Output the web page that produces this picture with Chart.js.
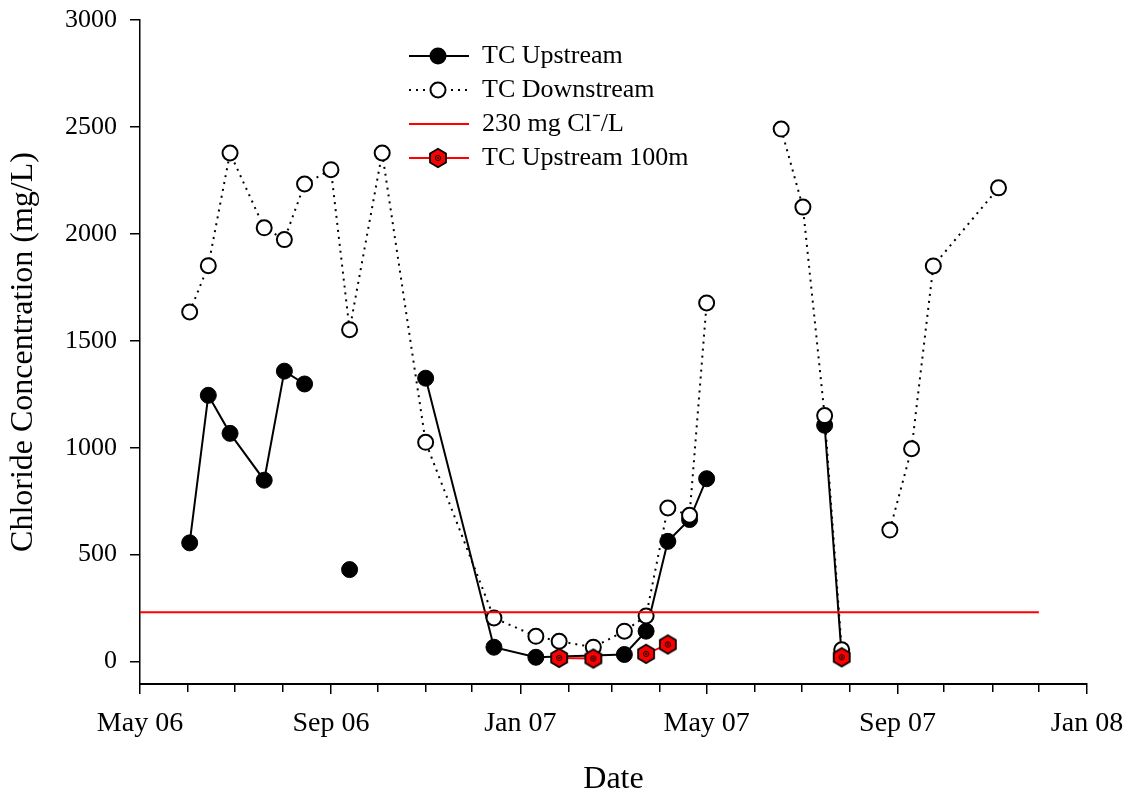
<!DOCTYPE html>
<html><head><meta charset="utf-8">
<script src="https://cdn.jsdelivr.net/npm/chart.js@4/dist/chart.umd.min.js"></script>
<style>html,body{margin:0;padding:0;background:#fff;}canvas{display:block;}</style>
</head><body>
<canvas id="c" width="1123" height="796"></canvas>
<script>
// ---- data (null = break in the line) ----
const upDates   = ['2006-06-02','2006-06-14','2006-06-28','2006-07-20','2006-08-02','2006-08-15','2006-08-25','2006-09-13','2006-09-25','2006-11-01','2006-12-15','2007-01-11','2007-03-09','2007-03-23','2007-04-06','2007-04-20','2007-05-01','2007-06-01','2007-07-16','2007-07-27'];
const upValues  = [555, 1245, 1067, 848, 1358, 1298, null, 430, null, 1325, 67, 20, 33, 142, 562, 664, 855, null, 1105, 25];

const downDates  = ['2006-06-02','2006-06-14','2006-06-28','2006-07-20','2006-08-02','2006-08-15','2006-09-01','2006-09-13','2006-10-04','2006-11-01','2006-12-15','2007-01-11','2007-01-26','2007-02-17','2007-03-09','2007-03-23','2007-04-06','2007-04-20','2007-05-01','2007-06-01','2007-06-18','2007-07-02','2007-07-16','2007-07-27','2007-08-10','2007-08-27','2007-09-10','2007-09-24','2007-11-05'];
const downValues = [1635, 1851, 2378, 2028, 1973, 2233, 2300, 1552, 2378, 1025, 204, 118, 95, 67, 142, 213, 718, 684, 1677, null, 2490, 2125, 1150, 55, null, 615, 995, 1850, 2215];

const limitDates  = ['2006-05-01','2007-12-01'];
const limitValues = [230, 230];

const hexDates  = ['2007-01-26','2007-02-17','2007-03-05','2007-03-23','2007-04-06','2007-06-01','2007-07-27'];
const hexValues = [17, 14, null, 36, 80, null, 20];

const seriesLabels = ['TC Upstream', 'TC Downstream', '230 mg Cl\u207B/L', 'TC Upstream 100m'];

const xTickDates  = ['2006-05-01','2006-06-01','2006-07-01','2006-08-01','2006-09-01','2006-10-01','2006-11-01','2006-12-01','2007-01-01','2007-02-01','2007-03-01','2007-04-01','2007-05-01','2007-06-01','2007-07-01','2007-08-01','2007-09-01','2007-10-01','2007-11-01','2007-12-01','2008-01-01'];
const xTickLabels = ['May 06','','','','Sep 06','','','','Jan 07','','','','May 07','','','','Sep 07','','','','Jan 08'];
const yTicks = [0, 500, 1000, 1500, 2000, 2500, 3000];

// ---- helpers ----
const ORIGIN = Date.UTC(2006, 4, 1);
function dayOf(s) { const [y, m, d] = s.split('-').map(Number); return (Date.UTC(y, m - 1, d) - ORIGIN) / 86400000; }
function pts(dates, vals) { return dates.map((d, i) => ({x: dayOf(d), y: vals[i]})); }
const xTickDays = xTickDates.map(dayOf);

function drawHex(g, cx, cy) {
  g.beginPath();
  for (let k = 0; k < 6; k++) {
    const a = Math.PI / 2 + k * Math.PI / 3;
    const px = cx + 9.2 * Math.cos(a), py = cy + 9.2 * Math.sin(a);
    if (k) g.lineTo(px, py); else g.moveTo(px, py);
  }
  g.closePath();
  g.fillStyle = '#ff0000'; g.fill();
  g.lineWidth = 1.8; g.strokeStyle = '#000'; g.stroke();
  g.beginPath(); g.arc(cx, cy, 2.6, 0, 2 * Math.PI); g.lineWidth = 1; g.stroke();
  g.beginPath(); g.arc(cx, cy, 1, 0, 2 * Math.PI); g.fillStyle = '#000'; g.fill();
}
function mk(w, h, fn) { const c = document.createElement('canvas'); c.width = w; c.height = h; fn(c.getContext('2d')); return c; }
const hexImg = mk(22, 22, g => drawHex(g, 11, 11));

const LW = 62, LH = 22, LC = 11;
const legendImgs = [
  mk(LW, LH, g => { g.strokeStyle = '#000'; g.lineWidth = 2; g.beginPath(); g.moveTo(1, LC); g.lineTo(61, LC); g.stroke();
                    g.beginPath(); g.arc(30, LC, 8.5, 0, 2 * Math.PI); g.fillStyle = '#000'; g.fill(); }),
  mk(LW, LH, g => { g.fillStyle = '#000'; for (let x = 1; x < 62; x += 7) { if (Math.abs(x - 30) > 8) g.fillRect(x, LC - 1, 2, 2); }
                    g.beginPath(); g.arc(30, LC, 7.5, 0, 2 * Math.PI); g.fillStyle = '#fff'; g.fill(); g.lineWidth = 2; g.strokeStyle = '#000'; g.stroke(); }),
  mk(LW, LH, g => { g.strokeStyle = '#ff0000'; g.lineWidth = 2; g.beginPath(); g.moveTo(1, LC); g.lineTo(61, LC); g.stroke(); }),
  mk(LW, LH, g => { g.strokeStyle = '#ff0000'; g.lineWidth = 2; g.beginPath(); g.moveTo(1, LC); g.lineTo(61, LC); g.stroke(); drawHex(g, 30, LC); })
];

Chart.defaults.font.family = "'Liberation Serif', 'Times New Roman', serif";
Chart.defaults.color = '#000';

const legendPos = {
  id: 'legendPos',
  afterLayout(chart) {
    const l = chart.legend; if (!l) return;
    const w = l.width, h = l.height;
    l.left = 401; l.top = 35; l.right = l.left + w; l.bottom = l.top + h;
  }
};

new Chart(document.getElementById('c'), {
  type: 'line',
  data: {
    datasets: [
      { label: seriesLabels[0], data: pts(upDates, upValues), order: 4,
        borderColor: '#000', borderWidth: 2, pointStyle: 'circle', pointRadius: 8,
        pointBackgroundColor: '#000', pointBorderColor: '#000', pointBorderWidth: 1, tension: 0 },
      { label: seriesLabels[1], data: pts(downDates, downValues), order: 3,
        borderColor: '#000', borderWidth: 2, borderDash: [2, 5], pointStyle: 'circle', pointRadius: 7.5,
        pointBackgroundColor: '#fff', pointBorderColor: '#000', pointBorderWidth: 2, tension: 0 },
      { label: seriesLabels[2], data: pts(limitDates, limitValues), order: 2,
        borderColor: '#ff0000', borderWidth: 2, pointRadius: 0, tension: 0 },
      { label: seriesLabels[3], data: pts(hexDates, hexValues), order: 1,
        borderColor: '#ff0000', borderWidth: 2, pointStyle: hexImg, pointRadius: 9, tension: 0 }
    ]
  },
  options: {
    responsive: false, animation: false, devicePixelRatio: 1,
    layout: { padding: { top: 20, right: 36, left: 0, bottom: 0 } },
    plugins: {
      tooltip: { enabled: false },
      legend: {
        position: 'chartArea', align: 'start',
        labels: {
          usePointStyle: true, pointStyleWidth: 60, padding: 8,
          font: { size: 26 }, color: '#000',
          sort: (a, b) => a.datasetIndex - b.datasetIndex,
          generateLabels: (chart) => Chart.defaults.plugins.legend.labels.generateLabels(chart)
              .map(it => Object.assign(it, { pointStyle: legendImgs[it.datasetIndex] }))
        }
      }
    },
    scales: {
      x: {
        type: 'linear', position: 'bottom', min: 0, max: dayOf('2008-01-01'),
        afterBuildTicks: (s) => { s.ticks = xTickDays.map(v => ({ value: v })); },
        afterFit: (s) => { s.height = 112; s.paddingLeft = 0; s.paddingRight = 0; },
        ticks: { autoSkip: false, maxRotation: 0, minRotation: 0, padding: 13, color: '#000', font: { size: 28 },
                 callback: (v, i) => xTickLabels[i] },
        grid: { drawOnChartArea: false, drawTicks: true, tickLength: 10, lineWidth: 1.5, color: '#000',
                tickBorderDash: (ctx) => (ctx.tick && xTickLabels[ctx.index] === '') ? [7, 40] : [] },
        border: { display: true, color: '#000', width: 2 },
        title: { display: true, text: 'Date', font: { size: 32 }, color: '#000', padding: { top: 0, bottom: -3 } }
      },
      y: {
        type: 'linear', position: 'left', min: -105, max: 3000,
        afterBuildTicks: (s) => { s.ticks = yTicks.map(v => ({ value: v })); },
        afterFit: (s) => { s.width = 140; s.paddingTop = 0; s.paddingBottom = 0; },
        ticks: { padding: 13, color: '#000', font: { size: 26 }, callback: (v) => String(v) },
        grid: { drawOnChartArea: false, drawTicks: true, tickLength: 10, lineWidth: 1.5, color: '#000' },
        border: { display: true, color: '#000', width: 1.5 },
        title: { display: true, text: 'Chloride Concentration (mg/L)', font: { size: 32 }, color: '#000', padding: { top: 4, bottom: 0 } }
      }
    }
  },
  plugins: [legendPos]
});
</script>
</body></html>
